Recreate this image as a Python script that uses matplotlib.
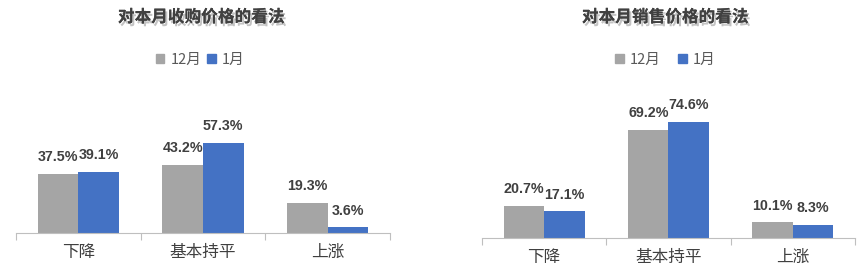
import matplotlib
matplotlib.use("Agg")
import matplotlib.pyplot as plt
import matplotlib.patheffects as pe
from matplotlib.patches import Patch
import numpy as np

plt.rcParams['font.family'] = ['Noto Sans CJK SC', 'DejaVu Sans']

categories = ['下降', '基本持平', '上涨']
series_names = ['12月', '1月']
buy_dec = [37.5, 43.2, 19.3]
buy_jan = [39.1, 57.3, 3.6]
sell_dec = [20.7, 69.2, 10.1]
sell_jan = [17.1, 74.6, 8.3]
titles = ['对本月收购价格的看法', '对本月销售价格的看法']

gray = '#A5A5A5'
blue = '#4472C4'
text_col = '#404040'

fig = plt.figure(figsize=(8.64, 2.77), dpi=100)
axes = [fig.add_axes([16 / 864, 44 / 277, 374 / 864, 133 / 277]),
        fig.add_axes([482 / 864, 39 / 277, 373 / 864, 132 / 277])]

label_font = ['Liberation Sans', 'DejaVu Sans']
x = np.arange(len(categories))
w = 0.325

for ax, dec, jan, title, tx, lx, colsp in zip(
        axes, [buy_dec, sell_dec], [buy_jan, sell_jan], titles,
        [201 / 864, 665 / 864], [200 / 864, 665 / 864], [0.4, 1.2]):
    b1 = ax.bar(x - w / 2, dec, w, color=gray)
    b2 = ax.bar(x + w / 2, jan, w, color=blue)
    for bars, vals in [(b1, dec), (b2, jan)]:
        for r, v in zip(bars, vals):
            ax.annotate(f'{v:.1f}%', (r.get_x() + r.get_width() / 2, v),
                        xytext=(0, 7), textcoords='offset points',
                        ha='center', va='bottom', fontsize=10.3,
                        fontweight='bold', color=text_col,
                        family=label_font, annotation_clip=False)
    ax.set_xlim(-0.5, 2.5)
    ax.set_ylim(0, 84.7)
    for s in ['top', 'right', 'left']:
        ax.spines[s].set_visible(False)
    ax.spines['bottom'].set_color('#BFBFBF')
    ax.set_yticks([])
    ax.set_xticks([-0.5, 0.5, 1.5, 2.5])
    ax.set_xticklabels([])
    ax.set_xticks(x, minor=True)
    ax.set_xticklabels(categories, minor=True, fontsize=12, color=text_col)
    ax.tick_params(axis='x', which='major', length=5, color='#BFBFBF')
    ax.tick_params(axis='x', which='minor', length=0, pad=8)

    fig.text(tx, 1 - 17 / 277, title, ha='center', va='center',
             fontsize=12, fontweight='bold', color=text_col,
             path_effects=[pe.withSimplePatchShadow(offset=(1.5, -2),
                                                    shadow_rgbFace='#888888',
                                                    alpha=0.5),
                           pe.Normal()])
    handles = [Patch(color=gray), Patch(color=blue)]
    fig.legend(handles, series_names, loc='center',
               bbox_to_anchor=(lx, 1 - 60 / 277), ncol=2, frameon=False,
               fontsize=10.5, handlelength=0.6, handleheight=0.6,
               handletextpad=0.4, columnspacing=colsp,
               labelcolor='#595959')

fig.savefig('out.png', dpi=100)
